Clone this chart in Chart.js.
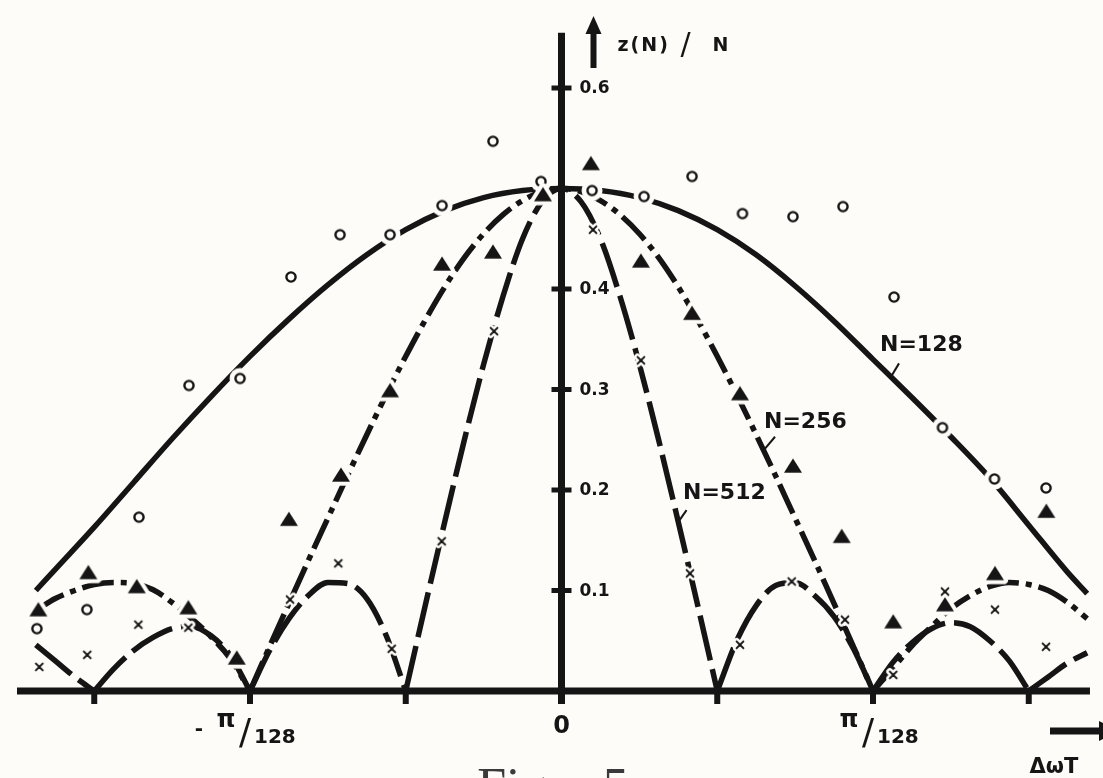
<!DOCTYPE html>
<html>
<head>
<meta charset="utf-8">
<title>z(N)/N</title>
<script src="https://cdn.jsdelivr.net/npm/chart.js@4.4.1/dist/chart.umd.min.js"></script>
<style>
  html, body { margin: 0; padding: 0; background: #fdfcf8; }
  #wrap { position: relative; width: 1103px; height: 778px; }
</style>
</head>
<body>
<div id="wrap"><canvas id="lobes"></canvas></div>
<script>
// abscissa in units of pi/256 (so pi/128 = 2)
const gridFine = [-3.375, -3.25, -3.125, -3, -2.875, -2.75, -2.625, -2.5, -2.375, -2.25, -2.125, -2,
  -1.875, -1.75, -1.625, -1.5, -1.375, -1.25, -1.125, -1, -0.875, -0.75, -0.625, -0.5, -0.375, -0.25, -0.125,
  0, 0.125, 0.25, 0.375, 0.5, 0.625, 0.75, 0.875, 1, 1.125, 1.25, 1.375, 1.5, 1.625, 1.75, 1.875,
  2, 2.125, 2.25, 2.375, 2.5, 2.625, 2.75, 2.875, 3, 3.125, 3.25, 3.375];
const gridCoarse = [-3.375, -3.25, -3, -2.75, -2.5, -2.25, -2, -1.75, -1.5, -1.25, -1, -0.75, -0.5, -0.25,
  0, 0.25, 0.5, 0.75, 1, 1.25, 1.5, 1.75, 2, 2.25, 2.5, 2.75, 3, 3.25, 3.375];

// theoretical curves z(N)/N
const z128 = [0.100, 0.121, 0.163, 0.207, 0.251, 0.293, 0.333, 0.370, 0.404, 0.434, 0.459, 0.478, 0.491, 0.498,
  0.500, 0.498, 0.491, 0.478, 0.459, 0.434, 0.403, 0.368, 0.330, 0.292, 0.253, 0.212, 0.165, 0.118, 0.097];
const z256 = [0.080, 0.092, 0.100, 0.106, 0.108, 0.107, 0.101, 0.088, 0.072, 0.054, 0.032, 0,
  0.044, 0.087, 0.130, 0.172, 0.214, 0.255, 0.295, 0.333, 0.369, 0.402, 0.431, 0.455, 0.474, 0.488, 0.497,
  0.500, 0.497, 0.488, 0.474, 0.455, 0.431, 0.402, 0.369, 0.333, 0.295, 0.255, 0.214, 0.172, 0.130, 0.087, 0.044,
  0, 0.022, 0.045, 0.064, 0.082, 0.095, 0.104, 0.108, 0.106, 0.100, 0.088, 0.072];
const z512 = [0.046, 0.030, 0.014, 0, 0.022, 0.040, 0.053, 0.062, 0.064, 0.055, 0.035, 0,
  0.040, 0.072, 0.095, 0.108, 0.107, 0.092, 0.055, 0, 0.085, 0.168, 0.249, 0.325, 0.393, 0.450, 0.487,
  0.500, 0.487, 0.450, 0.393, 0.325, 0.249, 0.168, 0.085, 0, 0.050, 0.085, 0.105, 0.108, 0.095, 0.074, 0.042,
  0, 0.028, 0.048, 0.062, 0.068, 0.064, 0.050, 0.030, 0, 0.014, 0.028, 0.038];

// measured values
const circleX = [-3.368, -3.047, -2.713, -2.392, -2.064, -1.737, -1.422, -1.101, -0.767, -0.440, -0.132,
  0.196, 0.530, 0.838, 1.162, 1.486, 1.807, 2.135, 2.446, 2.780, 3.111];
const circleZ = [0.062, 0.081, 0.173, 0.304, 0.311, 0.412, 0.454, 0.454, 0.483, 0.547, 0.507,
  0.498, 0.492, 0.512, 0.475, 0.472, 0.482, 0.392, 0.262, 0.211, 0.202];
const triangleX = [-3.359, -3.038, -2.727, -2.396, -2.085, -1.750, -1.416, -1.101, -0.767, -0.440, -0.119,
  0.189, 0.510, 0.838, 1.146, 1.486, 1.799, 2.130, 2.462, 2.783, 3.113];
const triangleZ = [0.079, 0.116, 0.102, 0.081, 0.031, 0.169, 0.213, 0.297, 0.423, 0.435, 0.492,
  0.523, 0.426, 0.374, 0.294, 0.222, 0.152, 0.067, 0.084, 0.115, 0.177];
const crossX = [-3.353, -3.045, -2.717, -2.396, -1.743, -1.433, -1.090, -0.769, -0.433,
  0.202, 0.510, 0.825, 1.146, 1.478, 1.820, 2.130, 2.462, 2.783, 3.111];
const crossZ = [0.024, 0.036, 0.066, 0.063, 0.091, 0.127, 0.042, 0.149, 0.358,
  0.459, 0.329, 0.117, 0.046, 0.109, 0.071, 0.016, 0.099, 0.081, 0.044];

const yTicks = [0.1, 0.2, 0.3, 0.4, 0.5, 0.6];
const yTickLabels = ['0.1', '0.2', '0.3', '0.4', '', '0.6'];
const xTicks = [-3, -2, -1, 0, 1, 2, 3];
const xTickLabels = ['', '-π/128', '', '0', '', 'π/128', ''];

const ink = '#151515';
const paper = '#fdfcf8';
const face = '"DejaVu Sans", "Liberation Sans", sans-serif';

// point glyphs with a paper-coloured halo so the curves break around them
function markerImage(kind) {
  const c = document.createElement('canvas');
  const s = kind === 'circle' ? 26 : kind === 'triangle' ? 34 : 20;
  c.width = s; c.height = s;
  const g = c.getContext('2d');
  g.translate(s / 2, s / 2);
  if (kind === 'circle') {
    g.fillStyle = paper;
    g.beginPath(); g.arc(0, 0, 10.5, 0, Math.PI * 2); g.fill();
    g.strokeStyle = ink; g.lineWidth = 2.4;
    g.beginPath(); g.arc(0, 0, 4.6, 0, Math.PI * 2); g.stroke();
  } else if (kind === 'triangle') {
    g.beginPath(); g.moveTo(0, -9.6); g.lineTo(9, 4.8); g.lineTo(-9, 4.8); g.closePath();
    g.strokeStyle = paper; g.lineWidth = 8; g.lineJoin = 'round'; g.stroke();
    g.fillStyle = ink; g.fill();
  } else {
    const arm = 3.4;
    const cross = () => {
      g.beginPath();
      g.moveTo(-arm, -arm); g.lineTo(arm, arm);
      g.moveTo(arm, -arm); g.lineTo(-arm, arm);
      g.stroke();
    };
    g.lineCap = 'round';
    g.strokeStyle = paper; g.lineWidth = 7; cross();
    g.strokeStyle = ink; g.lineWidth = 2; cross();
  }
  return c;
}

// cut a curve at its zeros so every lobe is smoothed on its own and the V's stay sharp
function lobes(xs, zs) {
  const parts = [];
  let cur = [];
  xs.forEach((x, i) => {
    cur.push({ x: x, y: zs[i] });
    if (zs[i] === 0 && cur.length > 1) {
      parts.push(cur);
      cur = [{ x: x, y: 0 }];
    }
  });
  if (cur.length > 1) parts.push(cur);
  return parts;
}

function curve(xs, zs, dash, order) {
  return lobes(xs, zs).map(part => ({
    data: part,
    showLine: true,
    borderColor: ink,
    borderWidth: 5.5,
    borderDash: dash,
    borderCapStyle: 'butt',
    borderJoinStyle: 'round',
    pointRadius: 0,
    cubicInterpolationMode: 'monotone',
    order: order
  }));
}

function marks(xs, zs, kind, order) {
  return {
    data: xs.map((x, i) => ({ x: x, y: zs[i] })),
    showLine: false,
    pointStyle: markerImage(kind),
    pointRadius: 8,
    order: order
  };
}

// curve labels and their leader lines, in data units
const curveNotes = [
  { text: 'N=128', at: [2.045, 0.344], lead: [[2.167, 0.326], [2.109, 0.311]] },
  { text: 'N=256', at: [1.300, 0.267], lead: [[1.371, 0.253], [1.300, 0.240]] },
  { text: 'N=512', at: [0.780, 0.197], lead: [[0.803, 0.180], [0.758, 0.170]] }
];

const figureAxes = {
  id: 'figureAxes',
  beforeDraw(chart) {
    const ctx = chart.ctx;
    ctx.save();
    ctx.fillStyle = paper;
    ctx.fillRect(0, 0, chart.width, chart.height);
    ctx.restore();
  },
  beforeDatasetsDraw(chart) {
    const { ctx, scales: { x, y } } = chart;
    const x0 = x.getPixelForValue(0);
    const y0 = y.getPixelForValue(0);
    ctx.save();
    ctx.strokeStyle = ink;
    ctx.lineCap = 'butt';

    // baseline
    ctx.lineWidth = 7;
    ctx.beginPath();
    ctx.moveTo(x.getPixelForValue(-3.496), y0);
    ctx.lineTo(x.getPixelForValue(3.393), y0);
    ctx.stroke();

    // vertical axis
    ctx.beginPath();
    ctx.moveTo(x0, y.getPixelForValue(0.655));
    ctx.lineTo(x0, y0 + 13);
    ctx.stroke();

    // tick marks
    ctx.lineWidth = 6;
    xTicks.forEach(v => {
      const px = x.getPixelForValue(v);
      ctx.beginPath();
      ctx.moveTo(px, y0);
      ctx.lineTo(px, y0 + 13);
      ctx.stroke();
    });
    ctx.lineWidth = 5;
    yTicks.forEach(v => {
      const py = y.getPixelForValue(v);
      ctx.beginPath();
      ctx.moveTo(x0 - 10, py);
      ctx.lineTo(x0 + 10, py);
      ctx.stroke();
    });
    ctx.restore();
  },
  afterDatasetsDraw(chart) {
    const { ctx, scales: { x, y } } = chart;
    const x0 = x.getPixelForValue(0);
    const y0 = y.getPixelForValue(0);
    ctx.save();
    ctx.fillStyle = ink;
    ctx.strokeStyle = ink;

    // y tick labels
    ctx.font = 'bold 17px ' + face;
    ctx.textAlign = 'left';
    ctx.textBaseline = 'middle';
    yTicks.forEach((v, i) => {
      if (yTickLabels[i]) ctx.fillText(yTickLabels[i], x0 + 18, y.getPixelForValue(v) + 1);
    });

    // x tick labels, fractions set as pi over 128
    xTicks.forEach((v, i) => {
      const label = xTickLabels[i];
      if (!label) return;
      const px = x.getPixelForValue(v);
      if (label.indexOf('/') < 0) {
        ctx.font = 'bold 24px ' + face;
        ctx.textAlign = 'center';
        ctx.fillText(label, px, y0 + 36);
        return;
      }
      const [num, den] = label.split('/');
      const neg = num.startsWith('-');
      if (neg) {
        ctx.font = 'bold 20px ' + face;
        ctx.textAlign = 'center';
        ctx.fillText('-', px - 51, y0 + 39);
      }
      ctx.font = 'bold 24px ' + face;
      ctx.textAlign = 'center';
      ctx.fillText(neg ? num.slice(1) : num, px - 24, y0 + 30);
      ctx.font = '36px ' + face;
      ctx.fillText('/', px - 5, y0 + 44);
      ctx.font = 'bold 20px ' + face;
      ctx.textAlign = 'left';
      ctx.fillText(den, px + 4, y0 + 47);
    });

    // ordinate caption with arrow
    const ax = x0 + 32;
    ctx.lineWidth = 6;
    ctx.beginPath();
    ctx.moveTo(ax, 68);
    ctx.lineTo(ax, 30);
    ctx.stroke();
    ctx.beginPath();
    ctx.moveTo(ax - 8, 34);
    ctx.lineTo(ax + 8, 34);
    ctx.lineTo(ax, 16);
    ctx.closePath();
    ctx.fill();
    ctx.textAlign = 'left';
    ctx.font = 'bold 19px ' + face;
    ctx.letterSpacing = '2px';
    ctx.fillText('z(N)', x0 + 56, 46);
    ctx.letterSpacing = '0px';
    ctx.font = '30px ' + face;
    ctx.fillText('/', x0 + 119, 46);
    ctx.font = 'bold 19px ' + face;
    ctx.fillText('N', x0 + 151, 46);

    // abscissa caption with arrow
    const ay = y0 + 40;
    ctx.lineWidth = 7;
    ctx.beginPath();
    ctx.moveTo(1050, ay);
    ctx.lineTo(1102, ay);
    ctx.stroke();
    ctx.beginPath();
    ctx.moveTo(1099, ay - 10);
    ctx.lineTo(1099, ay + 10);
    ctx.lineTo(1120, ay);
    ctx.closePath();
    ctx.fill();
    ctx.font = 'bold 21px ' + face;
    ctx.textAlign = 'center';
    ctx.fillText('ΔωT', 1054, y0 + 77);

    // curve names
    ctx.font = 'bold 22px ' + face;
    ctx.textAlign = 'left';
    ctx.lineWidth = 2;
    curveNotes.forEach(n => {
      ctx.fillText(n.text, x.getPixelForValue(n.at[0]), y.getPixelForValue(n.at[1]));
      ctx.beginPath();
      ctx.moveTo(x.getPixelForValue(n.lead[0][0]), y.getPixelForValue(n.lead[0][1]));
      ctx.lineTo(x.getPixelForValue(n.lead[1][0]), y.getPixelForValue(n.lead[1][1]));
      ctx.stroke();
    });

    // figure caption, mostly below the page edge
    ctx.fillStyle = '#3a3a3a';
    ctx.font = '52px "Liberation Serif", "DejaVu Serif", serif';
    ctx.textAlign = 'center';
    ctx.textBaseline = 'alphabetic';
    ctx.fillText('Figur 5', 553, 804);
    ctx.restore();
  }
};

new Chart(document.getElementById('lobes'), {
  type: 'scatter',
  data: {
    datasets: [
      ...curve(gridCoarse, z128, [], 12),
      ...curve(gridFine, z256, [32, 7, 6, 7], 11),
      ...curve(gridFine, z512, [46, 9], 10),
      marks(circleX, circleZ, 'circle', 3),
      marks(triangleX, triangleZ, 'triangle', 2),
      marks(crossX, crossZ, 'cross', 1)
    ]
  },
  options: {
    responsive: true,
    maintainAspectRatio: false,
    animation: false,
    events: [],
    layout: { autoPadding: false, padding: 0 },
    plugins: { legend: { display: false }, tooltip: { enabled: false } },
    scales: {
      x: { type: 'linear', min: -3.6051, max: 3.4767, display: false },
      y: { type: 'linear', min: -0.08657, max: 0.68756, display: false }
    }
  },
  plugins: [figureAxes]
});
</script>
</body>
</html>
